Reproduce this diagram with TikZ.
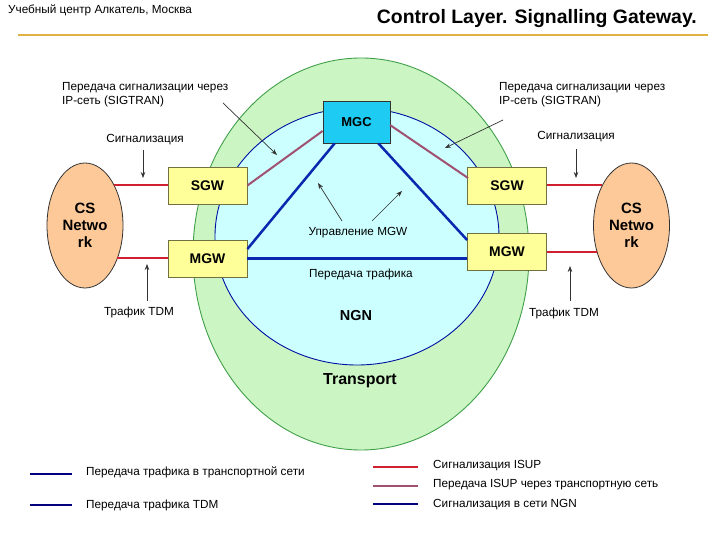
\documentclass[tikz,border=0pt]{standalone}
\usepackage{fontspec}
\setmainfont{Liberation Sans}
\usetikzlibrary{arrows.meta,shapes.geometric}
\definecolor{gold}{HTML}{E0B040}
\definecolor{tgreen}{HTML}{CCF5C4}
\definecolor{tgreenb}{HTML}{40A048}
\definecolor{ngnfill}{HTML}{CCFFFF}
\definecolor{ngnb}{HTML}{0010A0}
\definecolor{mgcfill}{HTML}{1ECBF2}
\definecolor{gwfill}{HTML}{FFFF99}
\definecolor{gwb}{HTML}{707040}
\definecolor{csfill}{HTML}{FDC999}
\definecolor{sigred}{HTML}{D02030}
\definecolor{sigmauve}{HTML}{A05070}
\definecolor{trblue}{HTML}{0828B0}
\definecolor{legblue}{HTML}{000080}
\tikzset{
  lbl/.style={font=\fontsize{11.8}{14}\selectfont, inner sep=0pt},
  gwbox/.style={draw=gwb, fill=gwfill, line width=0.8bp, minimum width=79bp, minimum height=37bp, inner sep=0pt, font=\fontsize{14}{16}\selectfont\bfseries},
  csnet/.style={ellipse, draw=black!80, fill=csfill, line width=0.8bp, minimum width=76bp, minimum height=125bp, inner sep=0pt, align=center, font=\fontsize{15}{17}\selectfont\bfseries},
  redline/.style={draw=sigred, line width=2bp},
  mauveline/.style={draw=sigmauve, line width=2bp},
  blueline/.style={draw=trblue, line width=2.5bp},
  legline/.style={line width=2bp},
  pointer/.style={draw=black!80, line width=0.7bp, -{Stealth[length=6bp,width=4.5bp]}},
}
\begin{document}
\begin{tikzpicture}[x=1bp,y=-1bp]
\useasboundingbox (0,0) rectangle (720,540);
% header
\node[anchor=west, font=\fontsize{11.8}{14}\selectfont, inner sep=0pt] (hdr) at (8,10) {Учебный центр Алкатель, Москва};
\node[anchor=east, font=\fontsize{19.5}{22}\selectfont\bfseries, inner sep=0pt] (title) at (697,19) {Control Layer. Signalling Gateway.};
\draw[gold, line width=2.2bp] (18,35) -- (708,35);
% transport and NGN
\node[ellipse, draw=tgreenb, fill=tgreen, line width=0.9bp, minimum width=336bp, minimum height=392bp, inner sep=0pt] (transport) at (361,254) {};
\node[ellipse, draw=ngnb, fill=ngnfill, line width=0.9bp, minimum width=284bp, minimum height=257bp, inner sep=0pt] (ngn) at (357,236.5) {};
% boxes
\node[draw=black!80, fill=mgcfill, line width=0.8bp, minimum width=67bp, minimum height=42bp, inner sep=0pt, font=\fontsize{13}{15}\selectfont\bfseries] (mgc) at (356.5,122) {MGC};
\node[gwbox] (sgwl) at (207.5,185.5) {SGW};
\node[gwbox] (mgwl) at (207.5,258.5) {MGW};
\node[gwbox] (sgwr) at (507,185.5) {SGW};
\node[gwbox] (mgwr) at (507,252) {MGW};
\node[csnet] (csl) at (85,225.5) {CS\\Netwo\\rk};
\node[csnet] (csr) at (631.5,225.5) {CS\\Netwo\\rk};
% signalling lines
\draw[redline] (sgwl.west) -- (sgwl.west -| csl.54);
\draw[redline] (mgwl.west) -- (mgwl.west -| csl.-46);
\draw[redline] (sgwr.east) -- (sgwr.east -| csr.126);
\draw[redline] (mgwr.east) -- (mgwr.east -| csr.-140);
\draw[mauveline] (sgwl.east) -- (mgc.west |- 0,131);
\coordinate (mgcre) at (390,125);
\coordinate (sgwrnw) at (468,178);
\draw[mauveline] (mgcre) -- (sgwrnw);
% transport lines
\draw[blueline] (mgc.south west) ++(12,0) coordinate (mgcbl) -- (mgwl.east |- 0,249) coordinate (mgwle);
\draw[blueline] (mgc.south east) ++(-12,0) coordinate (mgcbr) -- (mgwr.west |- 0,240) coordinate (mgwrw);
\draw[blueline] (mgwl.east) -- (mgwl.east -| mgwr.west);
% labels
\node[lbl, anchor=west, align=left] (sigtl) at (62,95) {Передача сигнализации через\\IP-сеть (SIGTRAN)};
\node[lbl, anchor=west, align=left] (sigtr) at (499,95) {Передача сигнализации через\\IP-сеть (SIGTRAN)};
\coordinate (sigtla) at (223,103);
\coordinate (sigtlb) at (277,155);
\draw[pointer] (sigtla) -- (sigtlb);
\coordinate (sigtra) at (503,120);
\coordinate (sigtrb) at (445,148);
\draw[pointer] (sigtra) -- (sigtrb);
\node[lbl] (sigl) at (145,140) {Сигнализация};
\node[lbl] (sigr) at (576,137) {Сигнализация};
\coordinate (siglb) at (143,178);
\coordinate (sigrb) at (576,178);
\draw[pointer] (143,150) -- (siglb);
\draw[pointer] (576,149) -- (sigrb);
\node[lbl] (tdml) at (139,312) {Трафик TDM};
\node[lbl] (tdmr) at (564,313) {Трафик TDM};
\coordinate (tdmlb) at (147,264);
\coordinate (tdmrb) at (570,266);
\draw[pointer] (147,301) -- (tdmlb);
\draw[pointer] (570,301) -- (tdmrb);
\node[lbl] (ctrl) at (358,233) {Управление MGW};
\coordinate (ctrla) at (318,183);
\coordinate (ctrlb) at (402,191);
\draw[pointer] (342,221) -- (ctrla);
\draw[pointer] (372,221) -- (ctrlb);
\node[lbl] (traf) at (361,274) {Передача трафика};
\node[font=\fontsize{14.5}{16}\selectfont\bfseries, inner sep=0pt] (ngnl) at (356,316) {NGN};
\node[font=\fontsize{16}{18}\selectfont\bfseries, inner sep=0pt] (trl) at (360,381) {Transport};
% legend
\draw[legblue, legline] (30,474) coordinate (l1a) -- (72,474) coordinate (l1b);
\draw[legblue, legline] (30,505) coordinate (l2a) -- (72,505) coordinate (l2b);
\node[lbl, anchor=west] (lt1) at (86,472) {Передача трафика в транспортной сети};
\node[lbl, anchor=west] (lt2) at (86,505) {Передача трафика TDM};
\draw[sigred, legline] (373,467) coordinate (r1a) -- (418,467) coordinate (r1b);
\draw[sigmauve, legline] (373,486) coordinate (r2a) -- (418,486) coordinate (r2b);
\draw[legblue, legline] (373,504) coordinate (r3a) -- (418,504) coordinate (r3b);
\node[lbl, anchor=west] (rt1) at (433,466) {Сигнализация ISUP};
\node[lbl, anchor=west] (rt2) at (433,485) {Передача ISUP через транспортную сеть};
\node[lbl, anchor=west] (rt3) at (433,505) {Сигнализация в сети NGN};
\end{tikzpicture}
\end{document}
